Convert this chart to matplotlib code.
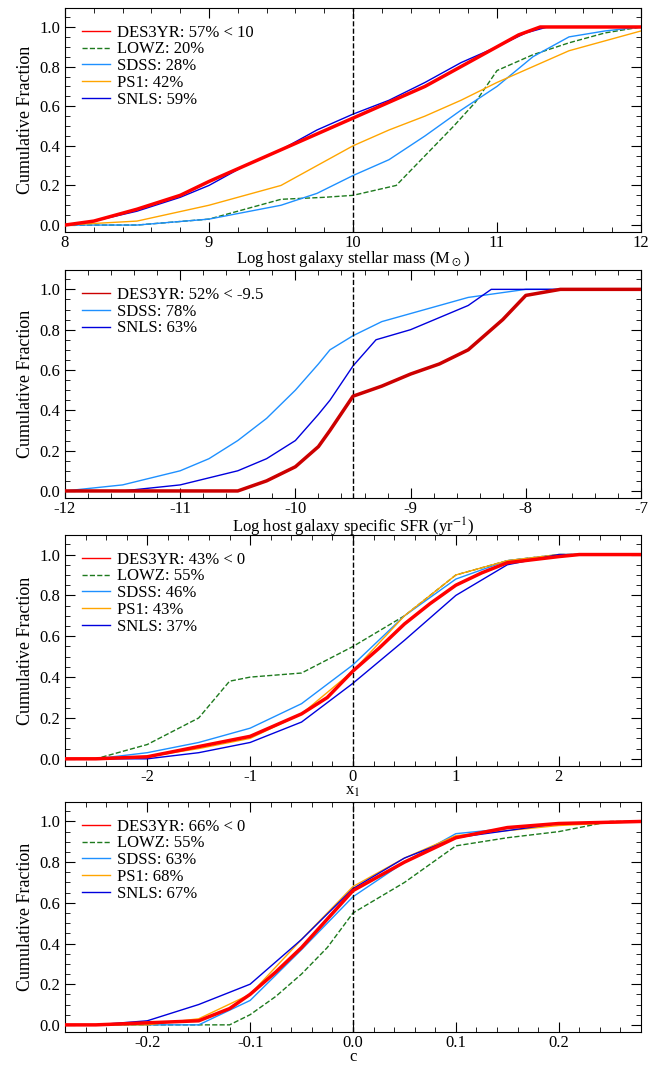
import numpy as np
import matplotlib
matplotlib.use('Agg')
import matplotlib.pyplot as plt

plt.rcParams['font.family'] = ['Liberation Serif', 'DejaVu Serif']
plt.rcParams['mathtext.fontset'] = 'stix'

### Panel 1: host mass
mass_des_x = [8.0, 8.2, 8.5, 8.8, 9.0, 9.25, 9.5, 9.75, 10.0, 10.25, 10.5, 10.75, 11.0, 11.15, 11.3, 12.0]
mass_des_y = [0.0, 0.02, 0.08, 0.15, 0.22, 0.30, 0.38, 0.46, 0.54, 0.62, 0.70, 0.80, 0.90, 0.96, 1.0, 1.0]
mass_snls_x = [8.0, 8.2, 8.5, 8.8, 9.0, 9.25, 9.5, 9.75, 10.0, 10.25, 10.5, 10.75, 11.0, 11.2, 11.35, 12.0]
mass_snls_y = [0.0, 0.02, 0.07, 0.14, 0.20, 0.30, 0.38, 0.48, 0.56, 0.63, 0.72, 0.82, 0.90, 0.97, 1.0, 1.0]
mass_ps1_x = [8.0, 8.5, 9.0, 9.25, 9.5, 9.75, 10.0, 10.25, 10.5, 10.75, 11.0, 11.25, 11.5, 11.75, 12.0]
mass_ps1_y = [0.0, 0.02, 0.10, 0.15, 0.20, 0.30, 0.40, 0.48, 0.55, 0.63, 0.72, 0.80, 0.88, 0.93, 0.98]
mass_sdss_x = [8.0, 8.5, 9.0, 9.5, 9.75, 10.0, 10.25, 10.5, 10.75, 11.0, 11.25, 11.5, 11.75, 12.0]
mass_sdss_y = [0.0, 0.0, 0.03, 0.10, 0.16, 0.25, 0.33, 0.45, 0.58, 0.70, 0.85, 0.95, 0.98, 1.0]
mass_lowz_x = [8.0, 8.5, 9.0, 9.5, 9.8, 10.0, 10.3, 10.5, 10.7, 10.85, 11.0, 11.25, 11.5, 11.75, 12.0]
mass_lowz_y = [0.0, 0.0, 0.03, 0.13, 0.14, 0.15, 0.20, 0.35, 0.50, 0.62, 0.78, 0.86, 0.92, 0.97, 1.0]

### Panel 2: sSFR
ssfr_des_x = [-12.0, -10.5, -10.25, -10.0, -9.8, -9.7, -9.5, -9.25, -9.0, -8.75, -8.5, -8.3, -8.2, -8.0, -7.7, -7.0]
ssfr_des_y = [0.0, 0.0, 0.05, 0.12, 0.22, 0.30, 0.47, 0.52, 0.58, 0.63, 0.70, 0.80, 0.85, 0.97, 1.0, 1.0]
ssfr_sdss_x = [-12.0, -11.5, -11.0, -10.75, -10.5, -10.25, -10.0, -9.8, -9.7, -9.5, -9.25, -9.0, -8.5, -8.0, -7.0]
ssfr_sdss_y = [0.0, 0.03, 0.10, 0.16, 0.25, 0.36, 0.50, 0.63, 0.70, 0.77, 0.84, 0.88, 0.96, 1.0, 1.0]
ssfr_snls_x = [-12.0, -11.5, -11.0, -10.5, -10.25, -10.0, -9.8, -9.7, -9.5, -9.3, -9.0, -8.75, -8.5, -8.3, -7.0]
ssfr_snls_y = [0.0, 0.0, 0.03, 0.10, 0.16, 0.25, 0.38, 0.45, 0.62, 0.75, 0.80, 0.86, 0.92, 1.0, 1.0]

### Panel 3: x1
x1_des_x = [-2.8, -2.5, -2.0, -1.5, -1.0, -0.5, -0.25, 0.0, 0.25, 0.5, 0.75, 1.0, 1.25, 1.5, 2.0, 2.2, 2.8]
x1_des_y = [0.0, 0.0, 0.01, 0.06, 0.11, 0.22, 0.30, 0.43, 0.54, 0.66, 0.76, 0.85, 0.91, 0.96, 0.99, 1.0, 1.0]
x1_lowz_x = [-2.8, -2.5, -2.0, -1.5, -1.2, -1.0, -0.5, 0.0, 0.5, 1.0, 1.5, 2.0, 2.8]
x1_lowz_y = [0.0, 0.0, 0.07, 0.20, 0.38, 0.40, 0.42, 0.55, 0.70, 0.90, 0.97, 1.0, 1.0]
x1_sdss_x = [-2.8, -2.5, -2.0, -1.5, -1.0, -0.5, 0.0, 0.5, 1.0, 1.5, 2.0, 2.8]
x1_sdss_y = [0.0, 0.0, 0.03, 0.08, 0.15, 0.27, 0.46, 0.70, 0.88, 0.97, 1.0, 1.0]
x1_ps1_x = [-2.8, -2.0, -1.5, -1.0, -0.5, 0.0, 0.5, 1.0, 1.5, 2.0, 2.8]
x1_ps1_y = [0.0, 0.01, 0.05, 0.10, 0.22, 0.43, 0.70, 0.90, 0.97, 1.0, 1.0]
x1_snls_x = [-2.8, -2.0, -1.5, -1.0, -0.5, 0.0, 0.5, 1.0, 1.5, 2.0, 2.8]
x1_snls_y = [0.0, 0.0, 0.03, 0.08, 0.18, 0.37, 0.58, 0.80, 0.95, 1.0, 1.0]

### Panel 4: c
c_des_x = [-0.28, -0.25, -0.15, -0.12, -0.1, -0.075, -0.05, -0.025, 0.0, 0.05, 0.1, 0.15, 0.2, 0.28]
c_des_y = [0.0, 0.0, 0.02, 0.08, 0.15, 0.26, 0.38, 0.52, 0.66, 0.80, 0.92, 0.97, 0.99, 1.0]
c_lowz_x = [-0.28, -0.12, -0.1, -0.075, -0.05, -0.025, 0.0, 0.05, 0.1, 0.15, 0.2, 0.25, 0.28]
c_lowz_y = [0.0, 0.0, 0.05, 0.14, 0.25, 0.38, 0.55, 0.70, 0.88, 0.92, 0.95, 1.0, 1.0]
c_sdss_x = [-0.28, -0.15, -0.1, -0.05, 0.0, 0.05, 0.1, 0.2, 0.28]
c_sdss_y = [0.0, 0.0, 0.12, 0.37, 0.63, 0.80, 0.94, 0.99, 1.0]
c_ps1_x = [-0.28, -0.2, -0.15, -0.1, -0.05, 0.0, 0.05, 0.1, 0.2, 0.28]
c_ps1_y = [0.0, 0.0, 0.03, 0.15, 0.42, 0.68, 0.82, 0.93, 0.98, 1.0]
c_snls_x = [-0.28, -0.25, -0.2, -0.15, -0.1, -0.05, 0.0, 0.05, 0.1, 0.2, 0.28]
c_snls_y = [0.0, 0.0, 0.02, 0.10, 0.20, 0.42, 0.67, 0.82, 0.92, 0.99, 1.0]

RED = '#ff0000'
GREEN = '#1e7a1e'
SDSS = '#1e90ff'
PS1 = '#ffa500'
SNLS = '#0000dd'

fig = plt.figure(figsize=(6.59, 10.77), dpi=100)
rects = [(0.0986, 0.7846, 0.8741, 0.2080),
         (0.0986, 0.5376, 0.8741, 0.2117),
         (0.0986, 0.2888, 0.8741, 0.2145),
         (0.0986, 0.0418, 0.8741, 0.2136)]

panels = [
    dict(xlim=(8, 12), cut=10, xlabel=r'Log host galaxy stellar mass (M$_\odot$)',
         xticks=[8, 9, 10, 11, 12], xtl=['8', '9', '10', '11', '12'],
         curves=[(mass_des_x, mass_des_y, RED, '-', 2.5, 'DES3YR: 57% < 10'),
                 (mass_lowz_x, mass_lowz_y, GREEN, '--', 1.0, 'LOWZ: 20%'),
                 (mass_sdss_x, mass_sdss_y, SDSS, '-', 1.0, 'SDSS: 28%'),
                 (mass_ps1_x, mass_ps1_y, PS1, '-', 1.0, 'PS1: 42%'),
                 (mass_snls_x, mass_snls_y, SNLS, '-', 1.0, 'SNLS: 59%')]),
    dict(xlim=(-12, -7), cut=-9.5, xlabel=r'Log host galaxy specific SFR (yr$^{-1}$)',
         xticks=[-12, -11, -10, -9, -8, -7], xtl=['-12', '-11', '-10', '-9', '-8', '-7'],
         curves=[(ssfr_des_x, ssfr_des_y, '#cc0000', '-', 2.5, 'DES3YR: 52% < -9.5'),
                 (ssfr_sdss_x, ssfr_sdss_y, SDSS, '-', 1.0, 'SDSS: 78%'),
                 (ssfr_snls_x, ssfr_snls_y, SNLS, '-', 1.0, 'SNLS: 63%')]),
    dict(xlim=(-2.8, 2.8), cut=0, xlabel=r'x$_1$',
         xticks=[-2, -1, 0, 1, 2], xtl=['-2', '-1', '0', '1', '2'],
         curves=[(x1_des_x, x1_des_y, RED, '-', 2.5, 'DES3YR: 43% < 0'),
                 (x1_lowz_x, x1_lowz_y, GREEN, '--', 1.0, 'LOWZ: 55%'),
                 (x1_sdss_x, x1_sdss_y, SDSS, '-', 1.0, 'SDSS: 46%'),
                 (x1_ps1_x, x1_ps1_y, PS1, '-', 1.0, 'PS1: 43%'),
                 (x1_snls_x, x1_snls_y, SNLS, '-', 1.0, 'SNLS: 37%')]),
    dict(xlim=(-0.28, 0.28), cut=0, xlabel='c',
         xticks=[-0.2, -0.1, 0.0, 0.1, 0.2], xtl=['-0.2', '-0.1', '0.0', '0.1', '0.2'],
         curves=[(c_des_x, c_des_y, RED, '-', 2.5, 'DES3YR: 66% < 0'),
                 (c_lowz_x, c_lowz_y, GREEN, '--', 1.0, 'LOWZ: 55%'),
                 (c_sdss_x, c_sdss_y, SDSS, '-', 1.0, 'SDSS: 63%'),
                 (c_ps1_x, c_ps1_y, PS1, '-', 1.0, 'PS1: 68%'),
                 (c_snls_x, c_snls_y, SNLS, '-', 1.0, 'SNLS: 67%')]),
]

for rect, p in zip(rects, panels):
    ax = fig.add_axes(rect)
    # draw DES last so it sits on top
    for cx, cy, col, ls, lw, lab in p['curves'][1:]:
        ax.plot(cx, cy, color=col, ls=ls, lw=lw, label=lab)
    cx, cy, col, ls, lw, lab = p['curves'][0]
    ax.plot(cx, cy, color=col, ls=ls, lw=lw, label=lab, zorder=5)
    ax.axvline(p['cut'], color='black', ls='--', lw=1)
    ax.set_xlim(*p['xlim'])
    ax.set_ylim(-0.035, 1.096)
    ax.set_xticks(p['xticks'])
    ax.set_xticklabels(p['xtl'])
    ax.set_yticks([0, 0.2, 0.4, 0.6, 0.8, 1.0])
    ax.set_yticklabels(['0.0', '0.2', '0.4', '0.6', '0.8', '1.0'])
    ax.minorticks_on()
    ax.tick_params(which='both', direction='in', top=True, right=True, labelsize=12)
    ax.tick_params(which='major', length=7)
    ax.tick_params(which='minor', length=3.5)
    ax.tick_params(axis='x', pad=2)
    ax.set_xlabel(p['xlabel'], fontsize=12, labelpad=-1)
    ax.set_ylabel('Cumulative Fraction', fontsize=13)
    h, l = ax.get_legend_handles_labels()
    order = [len(h) - 1] + list(range(len(h) - 1))
    leg = ax.legend([h[i] for i in order], [l[i] for i in order], loc='upper left',
                    frameon=False, fontsize=12, handlelength=1.7, labelspacing=0.05,
                    borderaxespad=0.6, handletextpad=0.4)
    for ln in leg.get_lines():
        ln.set_linewidth(1.0)

fig.savefig('out.png', dpi=100)
